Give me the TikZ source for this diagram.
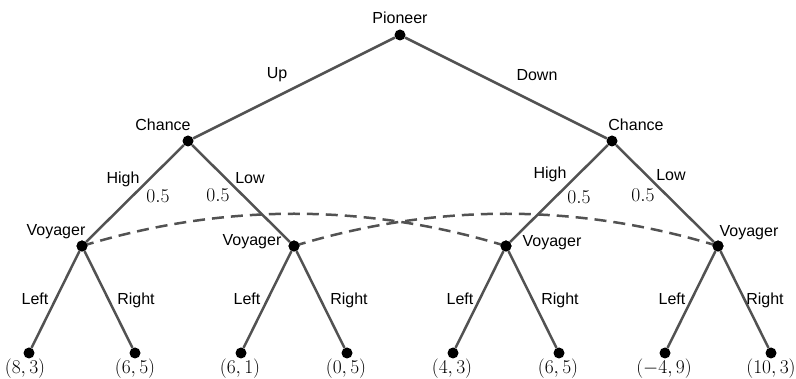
\RequirePackage{fix-cm}
\documentclass[tikz,border=0pt]{standalone}
\usepackage{fontspec}
\setmainfont{Liberation Sans}
\begin{document}
\begin{tikzpicture}[x=1pt,y=-1pt,
  dot/.style={circle,fill=black,inner sep=0pt,minimum size=11pt},
  edge/.style={draw=black!68,line width=2.5pt},
  info/.style={draw=black!68,line width=2.5pt,dash pattern=on 12pt off 7pt},
  lab/.style={inner sep=0pt,font=\fontsize{16}{19}\selectfont},
  prob/.style={inner sep=0pt,font=\fontsize{19.5}{23}\selectfont},
  pay/.style={inner sep=0pt,font=\fontsize{19.5}{23}\selectfont}]
\useasboundingbox (0,0) rectangle (796,379);
% nodes
\node[dot] (p) at (400,35) {};
\node[dot] (c1) at (188,141) {};
\node[dot] (c2) at (612,141) {};
\node[dot] (v1) at (82,246) {};
\node[dot] (v2) at (294,246) {};
\node[dot] (v3) at (506,246) {};
\node[dot] (v4) at (718,246) {};
\foreach \i/\x in {1/29,2/135,3/241,4/347,5/453,6/559,7/665,8/771}
  \node[dot] (t\i) at (\x,353) {};
% edges
\draw[edge] (p) -- (c1);
\draw[edge] (p) -- (c2);
\draw[edge] (c1) -- (v1);
\draw[edge] (c1) -- (v2);
\draw[edge] (c2) -- (v3);
\draw[edge] (c2) -- (v4);
\draw[edge] (v1) -- (t1);
\draw[edge] (v1) -- (t2);
\draw[edge] (v2) -- (t3);
\draw[edge] (v2) -- (t4);
\draw[edge] (v3) -- (t5);
\draw[edge] (v3) -- (t6);
\draw[edge] (v4) -- (t7);
\draw[edge] (v4) -- (t8);
% information sets
\draw[info] (v1.center) .. controls (223,203) and (365,203) .. (v3.center);
\draw[info] (v2.center) .. controls (435,203) and (577,203) .. (v4.center);
\node[dot] at (v1) {};
\node[dot] at (v2) {};
\node[dot] at (v3) {};
\node[dot] at (v4) {};
% labels
\node[lab] (lp) at (400,18) {Pioneer};
\node[lab] (lup) at (277,75) {Up};
\node[lab] (ldown) at (537,75) {Down};
\node[lab] (lc1) at (163,125) {Chance};
\node[lab] (lc2) at (636,125) {Chance};
\node[lab] (lh1) at (123,179) {High};
\node[lab] (ll1) at (250,178) {Low};
\node[lab] (lh2) at (550,174) {High};
\node[lab] (ll2) at (671,175) {Low};
\node[prob] (ph1) at (158,196) {$0.5$};
\node[prob] (pl1) at (218,195) {$0.5$};
\node[prob] (ph2) at (579,197) {$0.5$};
\node[prob] (pl2) at (643,195) {$0.5$};
\node[lab] (lv1) at (56,232) {Voyager};
\node[lab] (lv2) at (252,242) {Voyager};
\node[lab] (lv3) at (552,243) {Voyager};
\node[lab] (lv4) at (749,233) {Voyager};
\foreach \i/\x in {1/35,3/247,5/460,7/672}
  \node[lab] (ll\i) at (\x,299) {Left};
\foreach \i/\x in {2/136,4/349,6/560,8/765}
  \node[lab] (lr\i) at (\x,300) {Right};
\node[pay] (u1) at (25,369) {$(8,3)$};
\node[pay] (u2) at (135,369) {$(6,5)$};
\node[pay] (u3) at (240,369) {$(6,1)$};
\node[pay] (u4) at (346,369) {$(0,5)$};
\node[pay] (u5) at (452,369) {$(4,3)$};
\node[pay] (u6) at (558,369) {$(6,5)$};
\node[pay] (u7) at (664,369) {$(-4,9)$};
\node[pay] (u8) at (771,369) {$(10,3)$};
\end{tikzpicture}
\end{document}
